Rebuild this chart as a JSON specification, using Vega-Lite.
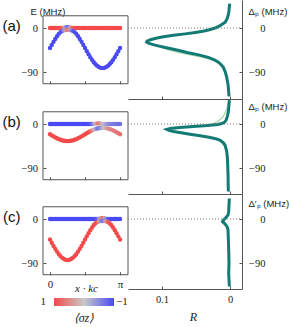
{
"$schema": "https://vega.github.io/schema/vega-lite/v6.json",
"padding": {"top": -3, "left": 0, "right": 0, "bottom": 0},
"background": "white",
"spacing": 0,
"bounds": "flush",
"resolve": {"scale": {"color": "independent"}},
"config": {
  "view": {"stroke": null},
  "axis": {"grid": false, "domainColor": "#555", "tickColor": "#555", "labelColor": "#222", "titleColor": "#222", "labelFont": "Liberation Serif", "labelFontSize": 10.5, "titleFontWeight": "normal", "domainWidth": 1, "tickWidth": 1}
},
"datasets": {
"bands": [
{"p":"a","b":"u","x":0,"E":0,"s":1},{"p":"a","b":"u","x":0.0785,"E":0,"s":1},{"p":"a","b":"u","x":0.1571,"E":0,"s":1},{"p":"a","b":"u","x":0.2356,"E":0,"s":1},{"p":"a","b":"u","x":0.3142,"E":0,"s":1},{"p":"a","b":"u","x":0.3927,"E":0,"s":1},{"p":"a","b":"u","x":0.4712,"E":0,"s":0.95},{"p":"a","b":"u","x":0.5498,"E":0.3,"s":0.85},{"p":"a","b":"u","x":0.6283,"E":0.8,"s":0.4},{"p":"a","b":"u","x":0.7069,"E":1.5,"s":-0.4},{"p":"a","b":"u","x":0.7854,"E":2,"s":-0.7},{"p":"a","b":"u","x":0.8639,"E":1.5,"s":-0.4},{"p":"a","b":"u","x":0.9425,"E":0.8,"s":0.4},{"p":"a","b":"u","x":1.021,"E":0.3,"s":0.85},{"p":"a","b":"u","x":1.0996,"E":0,"s":0.95},{"p":"a","b":"u","x":1.1781,"E":0,"s":1},{"p":"a","b":"u","x":1.2566,"E":0,"s":1},{"p":"a","b":"u","x":1.3352,"E":0,"s":1},{"p":"a","b":"u","x":1.4137,"E":0,"s":1},{"p":"a","b":"u","x":1.4923,"E":0,"s":1},{"p":"a","b":"u","x":1.5708,"E":0,"s":1},{"p":"a","b":"u","x":1.6493,"E":0,"s":1},{"p":"a","b":"u","x":1.7279,"E":0,"s":1},{"p":"a","b":"u","x":1.8064,"E":0,"s":1},{"p":"a","b":"u","x":1.885,"E":0,"s":1},{"p":"a","b":"u","x":1.9635,"E":0,"s":1},{"p":"a","b":"u","x":2.042,"E":0,"s":1},{"p":"a","b":"u","x":2.1206,"E":0,"s":1},{"p":"a","b":"u","x":2.1991,"E":0,"s":1},{"p":"a","b":"u","x":2.2777,"E":0,"s":1},{"p":"a","b":"u","x":2.3562,"E":0,"s":1},{"p":"a","b":"u","x":2.4347,"E":0,"s":1},{"p":"a","b":"u","x":2.5133,"E":0,"s":1},{"p":"a","b":"u","x":2.5918,"E":0,"s":1},{"p":"a","b":"u","x":2.6704,"E":0,"s":1},{"p":"a","b":"u","x":2.7489,"E":0,"s":1},{"p":"a","b":"u","x":2.8274,"E":0,"s":1},{"p":"a","b":"u","x":2.906,"E":0,"s":1},{"p":"a","b":"u","x":2.9845,"E":0,"s":1},{"p":"a","b":"u","x":3.0631,"E":0,"s":1},{"p":"a","b":"u","x":3.1416,"E":0,"s":1},
{"p":"a","b":"l","x":0,"E":-41,"s":-1},{"p":"a","b":"l","x":0.0785,"E":-34.6,"s":-1},{"p":"a","b":"l","x":0.1571,"E":-28.3,"s":-1},{"p":"a","b":"l","x":0.2356,"E":-22.4,"s":-1},{"p":"a","b":"l","x":0.3142,"E":-16.9,"s":-1},{"p":"a","b":"l","x":0.3927,"E":-12,"s":-1},{"p":"a","b":"l","x":0.4712,"E":-8.3,"s":-0.95},{"p":"a","b":"l","x":0.5498,"E":-5.8,"s":-0.85},{"p":"a","b":"l","x":0.6283,"E":-4.8,"s":-0.4},{"p":"a","b":"l","x":0.7069,"E":-4.2,"s":0.4},{"p":"a","b":"l","x":0.7854,"E":-4,"s":0.7},{"p":"a","b":"l","x":0.8639,"E":-4.2,"s":0.4},{"p":"a","b":"l","x":0.9425,"E":-4.8,"s":-0.4},{"p":"a","b":"l","x":1.021,"E":-5.8,"s":-0.85},{"p":"a","b":"l","x":1.0996,"E":-8.3,"s":-0.95},{"p":"a","b":"l","x":1.1781,"E":-12,"s":-1},{"p":"a","b":"l","x":1.2566,"E":-16.9,"s":-1},{"p":"a","b":"l","x":1.3352,"E":-22.4,"s":-1},{"p":"a","b":"l","x":1.4137,"E":-28.3,"s":-1},{"p":"a","b":"l","x":1.4923,"E":-34.6,"s":-1},{"p":"a","b":"l","x":1.5708,"E":-41,"s":-1},{"p":"a","b":"l","x":1.6493,"E":-47.4,"s":-1},{"p":"a","b":"l","x":1.7279,"E":-53.7,"s":-1},{"p":"a","b":"l","x":1.8064,"E":-59.6,"s":-1},{"p":"a","b":"l","x":1.885,"E":-65.1,"s":-1},{"p":"a","b":"l","x":1.9635,"E":-70,"s":-1},{"p":"a","b":"l","x":2.042,"E":-74.2,"s":-1},{"p":"a","b":"l","x":2.1206,"E":-77.5,"s":-1},{"p":"a","b":"l","x":2.1991,"E":-80,"s":-1},{"p":"a","b":"l","x":2.2777,"E":-81.5,"s":-1},{"p":"a","b":"l","x":2.3562,"E":-82,"s":-1},{"p":"a","b":"l","x":2.4347,"E":-81.5,"s":-1},{"p":"a","b":"l","x":2.5133,"E":-80,"s":-1},{"p":"a","b":"l","x":2.5918,"E":-77.5,"s":-1},{"p":"a","b":"l","x":2.6704,"E":-74.2,"s":-1},{"p":"a","b":"l","x":2.7489,"E":-70,"s":-1},{"p":"a","b":"l","x":2.8274,"E":-65.1,"s":-1},{"p":"a","b":"l","x":2.906,"E":-59.6,"s":-1},{"p":"a","b":"l","x":2.9845,"E":-53.7,"s":-1},{"p":"a","b":"l","x":3.0631,"E":-47.4,"s":-1},{"p":"a","b":"l","x":3.1416,"E":-41,"s":-1},
{"p":"b","b":"u","x":0,"E":0,"s":-1},{"p":"b","b":"u","x":0.0785,"E":0,"s":-1},{"p":"b","b":"u","x":0.1571,"E":0,"s":-1},{"p":"b","b":"u","x":0.2356,"E":0,"s":-1},{"p":"b","b":"u","x":0.3142,"E":0,"s":-1},{"p":"b","b":"u","x":0.3927,"E":0,"s":-1},{"p":"b","b":"u","x":0.4712,"E":0,"s":-1},{"p":"b","b":"u","x":0.5498,"E":0,"s":-1},{"p":"b","b":"u","x":0.6283,"E":0,"s":-1},{"p":"b","b":"u","x":0.7069,"E":0,"s":-1},{"p":"b","b":"u","x":0.7854,"E":0,"s":-1},{"p":"b","b":"u","x":0.8639,"E":0,"s":-1},{"p":"b","b":"u","x":0.9425,"E":0,"s":-1},{"p":"b","b":"u","x":1.021,"E":0,"s":-1},{"p":"b","b":"u","x":1.0996,"E":0,"s":-1},{"p":"b","b":"u","x":1.1781,"E":0,"s":-1},{"p":"b","b":"u","x":1.2566,"E":0,"s":-1},{"p":"b","b":"u","x":1.3352,"E":0,"s":-1},{"p":"b","b":"u","x":1.4137,"E":0,"s":-1},{"p":"b","b":"u","x":1.4923,"E":0,"s":-1},{"p":"b","b":"u","x":1.5708,"E":0,"s":-1},{"p":"b","b":"u","x":1.6493,"E":0,"s":-1},{"p":"b","b":"u","x":1.7279,"E":0,"s":-1},{"p":"b","b":"u","x":1.8064,"E":0,"s":-0.9},{"p":"b","b":"u","x":1.885,"E":0,"s":-0.75},{"p":"b","b":"u","x":1.9635,"E":0.3,"s":-0.4},{"p":"b","b":"u","x":2.042,"E":0.8,"s":0.1},{"p":"b","b":"u","x":2.1206,"E":1.2,"s":0.55},{"p":"b","b":"u","x":2.1991,"E":1.2,"s":0.6},{"p":"b","b":"u","x":2.2777,"E":0.8,"s":0.4},{"p":"b","b":"u","x":2.3562,"E":0.4,"s":0.1},{"p":"b","b":"u","x":2.4347,"E":0,"s":-0.15},{"p":"b","b":"u","x":2.5133,"E":0,"s":-0.3},{"p":"b","b":"u","x":2.5918,"E":0,"s":-0.4},{"p":"b","b":"u","x":2.6704,"E":0,"s":-0.5},{"p":"b","b":"u","x":2.7489,"E":0,"s":-0.55},{"p":"b","b":"u","x":2.8274,"E":0,"s":-0.6},{"p":"b","b":"u","x":2.906,"E":0,"s":-0.62},{"p":"b","b":"u","x":2.9845,"E":0,"s":-0.65},{"p":"b","b":"u","x":3.0631,"E":0,"s":-0.67},{"p":"b","b":"u","x":3.1416,"E":0,"s":-0.7},
{"p":"b","b":"l","x":0,"E":-21,"s":1},{"p":"b","b":"l","x":0.0785,"E":-23.2,"s":1},{"p":"b","b":"l","x":0.1571,"E":-25.3,"s":1},{"p":"b","b":"l","x":0.2356,"E":-27.4,"s":1},{"p":"b","b":"l","x":0.3142,"E":-29.2,"s":1},{"p":"b","b":"l","x":0.3927,"E":-30.9,"s":1},{"p":"b","b":"l","x":0.4712,"E":-32.3,"s":1},{"p":"b","b":"l","x":0.5498,"E":-33.5,"s":1},{"p":"b","b":"l","x":0.6283,"E":-34.3,"s":1},{"p":"b","b":"l","x":0.7069,"E":-34.8,"s":1},{"p":"b","b":"l","x":0.7854,"E":-35,"s":1},{"p":"b","b":"l","x":0.8639,"E":-34.8,"s":1},{"p":"b","b":"l","x":0.9425,"E":-34.3,"s":1},{"p":"b","b":"l","x":1.021,"E":-33.5,"s":1},{"p":"b","b":"l","x":1.0996,"E":-32.3,"s":1},{"p":"b","b":"l","x":1.1781,"E":-30.9,"s":1},{"p":"b","b":"l","x":1.2566,"E":-29.2,"s":1},{"p":"b","b":"l","x":1.3352,"E":-27.4,"s":1},{"p":"b","b":"l","x":1.4137,"E":-25.3,"s":1},{"p":"b","b":"l","x":1.4923,"E":-23.2,"s":1},{"p":"b","b":"l","x":1.5708,"E":-21,"s":1},{"p":"b","b":"l","x":1.6493,"E":-18.8,"s":1},{"p":"b","b":"l","x":1.7279,"E":-16.7,"s":1},{"p":"b","b":"l","x":1.8064,"E":-14.6,"s":0.85},{"p":"b","b":"l","x":1.885,"E":-12.9,"s":0.6},{"p":"b","b":"l","x":1.9635,"E":-11.4,"s":0.2},{"p":"b","b":"l","x":2.042,"E":-10.2,"s":-0.3},{"p":"b","b":"l","x":2.1206,"E":-9.2,"s":-0.6},{"p":"b","b":"l","x":2.1991,"E":-8.5,"s":-0.6},{"p":"b","b":"l","x":2.2777,"E":-8.1,"s":-0.45},{"p":"b","b":"l","x":2.3562,"E":-8,"s":-0.2},{"p":"b","b":"l","x":2.4347,"E":-8.1,"s":0.05},{"p":"b","b":"l","x":2.5133,"E":-8.5,"s":0.25},{"p":"b","b":"l","x":2.5918,"E":-9.2,"s":0.4},{"p":"b","b":"l","x":2.6704,"E":-10.2,"s":0.5},{"p":"b","b":"l","x":2.7489,"E":-11.4,"s":0.55},{"p":"b","b":"l","x":2.8274,"E":-12.9,"s":0.6},{"p":"b","b":"l","x":2.906,"E":-14.6,"s":0.62},{"p":"b","b":"l","x":2.9845,"E":-16.7,"s":0.65},{"p":"b","b":"l","x":3.0631,"E":-18.8,"s":0.67},{"p":"b","b":"l","x":3.1416,"E":-21,"s":0.7},
{"p":"c","b":"u","x":0,"E":0,"s":-1},{"p":"c","b":"u","x":0.0785,"E":0,"s":-1},{"p":"c","b":"u","x":0.1571,"E":0,"s":-1},{"p":"c","b":"u","x":0.2356,"E":0,"s":-1},{"p":"c","b":"u","x":0.3142,"E":0,"s":-1},{"p":"c","b":"u","x":0.3927,"E":0,"s":-1},{"p":"c","b":"u","x":0.4712,"E":0,"s":-1},{"p":"c","b":"u","x":0.5498,"E":0,"s":-1},{"p":"c","b":"u","x":0.6283,"E":0,"s":-1},{"p":"c","b":"u","x":0.7069,"E":0,"s":-1},{"p":"c","b":"u","x":0.7854,"E":0,"s":-1},{"p":"c","b":"u","x":0.8639,"E":0,"s":-1},{"p":"c","b":"u","x":0.9425,"E":0,"s":-1},{"p":"c","b":"u","x":1.021,"E":0,"s":-1},{"p":"c","b":"u","x":1.0996,"E":0,"s":-1},{"p":"c","b":"u","x":1.1781,"E":0,"s":-1},{"p":"c","b":"u","x":1.2566,"E":0,"s":-1},{"p":"c","b":"u","x":1.3352,"E":0,"s":-1},{"p":"c","b":"u","x":1.4137,"E":0,"s":-1},{"p":"c","b":"u","x":1.4923,"E":0,"s":-1},{"p":"c","b":"u","x":1.5708,"E":0,"s":-1},{"p":"c","b":"u","x":1.6493,"E":0,"s":-1},{"p":"c","b":"u","x":1.7279,"E":0,"s":-1},{"p":"c","b":"u","x":1.8064,"E":0,"s":-1},{"p":"c","b":"u","x":1.885,"E":0,"s":-1},{"p":"c","b":"u","x":1.9635,"E":0,"s":-1},{"p":"c","b":"u","x":2.042,"E":0,"s":-0.95},{"p":"c","b":"u","x":2.1206,"E":0.3,"s":-0.85},{"p":"c","b":"u","x":2.1991,"E":0.8,"s":-0.4},{"p":"c","b":"u","x":2.2777,"E":1.5,"s":0.4},{"p":"c","b":"u","x":2.3562,"E":2,"s":0.7},{"p":"c","b":"u","x":2.4347,"E":1.5,"s":0.4},{"p":"c","b":"u","x":2.5133,"E":0.8,"s":-0.4},{"p":"c","b":"u","x":2.5918,"E":0.3,"s":-0.85},{"p":"c","b":"u","x":2.6704,"E":0,"s":-0.95},{"p":"c","b":"u","x":2.7489,"E":0,"s":-1},{"p":"c","b":"u","x":2.8274,"E":0,"s":-1},{"p":"c","b":"u","x":2.906,"E":0,"s":-1},{"p":"c","b":"u","x":2.9845,"E":0,"s":-1},{"p":"c","b":"u","x":3.0631,"E":0,"s":-1},{"p":"c","b":"u","x":3.1416,"E":0,"s":-1},
{"p":"c","b":"l","x":0,"E":-42,"s":1},{"p":"c","b":"l","x":0.0785,"E":-48.6,"s":1},{"p":"c","b":"l","x":0.1571,"E":-55,"s":1},{"p":"c","b":"l","x":0.2356,"E":-61.1,"s":1},{"p":"c","b":"l","x":0.3142,"E":-66.7,"s":1},{"p":"c","b":"l","x":0.3927,"E":-71.7,"s":1},{"p":"c","b":"l","x":0.4712,"E":-76,"s":1},{"p":"c","b":"l","x":0.5498,"E":-79.4,"s":1},{"p":"c","b":"l","x":0.6283,"E":-81.9,"s":1},{"p":"c","b":"l","x":0.7069,"E":-83.5,"s":1},{"p":"c","b":"l","x":0.7854,"E":-84,"s":1},{"p":"c","b":"l","x":0.8639,"E":-83.5,"s":1},{"p":"c","b":"l","x":0.9425,"E":-81.9,"s":1},{"p":"c","b":"l","x":1.021,"E":-79.4,"s":1},{"p":"c","b":"l","x":1.0996,"E":-76,"s":1},{"p":"c","b":"l","x":1.1781,"E":-71.7,"s":1},{"p":"c","b":"l","x":1.2566,"E":-66.7,"s":1},{"p":"c","b":"l","x":1.3352,"E":-61.1,"s":1},{"p":"c","b":"l","x":1.4137,"E":-55,"s":1},{"p":"c","b":"l","x":1.4923,"E":-48.6,"s":1},{"p":"c","b":"l","x":1.5708,"E":-42,"s":1},{"p":"c","b":"l","x":1.6493,"E":-35.4,"s":1},{"p":"c","b":"l","x":1.7279,"E":-29,"s":1},{"p":"c","b":"l","x":1.8064,"E":-22.9,"s":1},{"p":"c","b":"l","x":1.885,"E":-17.3,"s":1},{"p":"c","b":"l","x":1.9635,"E":-12.3,"s":1},{"p":"c","b":"l","x":2.042,"E":-8.6,"s":0.95},{"p":"c","b":"l","x":2.1206,"E":-5.9,"s":0.85},{"p":"c","b":"l","x":2.1991,"E":-4.9,"s":0.4},{"p":"c","b":"l","x":2.2777,"E":-4.3,"s":-0.4},{"p":"c","b":"l","x":2.3562,"E":-4,"s":-0.7},{"p":"c","b":"l","x":2.4347,"E":-4.3,"s":-0.4},{"p":"c","b":"l","x":2.5133,"E":-4.9,"s":0.4},{"p":"c","b":"l","x":2.5918,"E":-5.9,"s":0.85},{"p":"c","b":"l","x":2.6704,"E":-8.6,"s":0.95},{"p":"c","b":"l","x":2.7489,"E":-12.3,"s":1},{"p":"c","b":"l","x":2.8274,"E":-17.3,"s":1},{"p":"c","b":"l","x":2.906,"E":-22.9,"s":1},{"p":"c","b":"l","x":2.9845,"E":-29,"s":1},{"p":"c","b":"l","x":3.0631,"E":-35.4,"s":1},{"p":"c","b":"l","x":3.1416,"E":-42,"s":1}
],
"refl": [
{"p":"a","t":"calc","d":50,"R":0.0005},{"p":"a","t":"calc","d":40,"R":0.0012},{"p":"a","t":"calc","d":30,"R":0.002},{"p":"a","t":"calc","d":20,"R":0.004},{"p":"a","t":"calc","d":12,"R":0.007},{"p":"a","t":"calc","d":8,"R":0.011},{"p":"a","t":"calc","d":4,"R":0.016},{"p":"a","t":"calc","d":0,"R":0.022},{"p":"a","t":"calc","d":-3,"R":0.029},{"p":"a","t":"calc","d":-6,"R":0.038},{"p":"a","t":"calc","d":-9,"R":0.051},{"p":"a","t":"calc","d":-12,"R":0.066},{"p":"a","t":"calc","d":-15,"R":0.083},{"p":"a","t":"calc","d":-18,"R":0.098},{"p":"a","t":"calc","d":-21,"R":0.109},{"p":"a","t":"calc","d":-24,"R":0.117},{"p":"a","t":"calc","d":-27,"R":0.122},{"p":"a","t":"calc","d":-29,"R":0.1225},{"p":"a","t":"calc","d":-31,"R":0.12},{"p":"a","t":"calc","d":-34,"R":0.113},{"p":"a","t":"calc","d":-37,"R":0.104},{"p":"a","t":"calc","d":-40,"R":0.095},{"p":"a","t":"calc","d":-43,"R":0.085},{"p":"a","t":"calc","d":-46,"R":0.075},{"p":"a","t":"calc","d":-50,"R":0.063},{"p":"a","t":"calc","d":-55,"R":0.046},{"p":"a","t":"calc","d":-60,"R":0.032},{"p":"a","t":"calc","d":-65,"R":0.023},{"p":"a","t":"calc","d":-70,"R":0.017},{"p":"a","t":"calc","d":-75,"R":0.013},{"p":"a","t":"calc","d":-80,"R":0.01},{"p":"a","t":"calc","d":-90,"R":0.007},{"p":"a","t":"calc","d":-100,"R":0.005},{"p":"a","t":"calc","d":-115,"R":0.003},{"p":"a","t":"calc","d":-130,"R":0.002},{"p":"a","t":"calc","d":-140,"R":0.0015},
{"p":"a","t":"meas","d":45,"R":0.0008},{"p":"a","t":"meas","d":30,"R":0.002},{"p":"a","t":"meas","d":15,"R":0.005},{"p":"a","t":"meas","d":5,"R":0.013},{"p":"a","t":"meas","d":0,"R":0.019},{"p":"a","t":"meas","d":-5,"R":0.032},{"p":"a","t":"meas","d":-10,"R":0.055},{"p":"a","t":"meas","d":-15,"R":0.085},{"p":"a","t":"meas","d":-20,"R":0.106},{"p":"a","t":"meas","d":-25,"R":0.118},{"p":"a","t":"meas","d":-28,"R":0.121},{"p":"a","t":"meas","d":-31,"R":0.118},{"p":"a","t":"meas","d":-35,"R":0.11},{"p":"a","t":"meas","d":-40,"R":0.1},{"p":"a","t":"meas","d":-45,"R":0.09},{"p":"a","t":"meas","d":-50,"R":0.076},{"p":"a","t":"meas","d":-55,"R":0.058},{"p":"a","t":"meas","d":-60,"R":0.04},{"p":"a","t":"meas","d":-65,"R":0.027},{"p":"a","t":"meas","d":-70,"R":0.019},{"p":"a","t":"meas","d":-80,"R":0.011},{"p":"a","t":"meas","d":-90,"R":0.007},{"p":"a","t":"meas","d":-110,"R":0.004},{"p":"a","t":"meas","d":-140,"R":0.002},
{"p":"b","t":"calc","d":49,"R":0.001},{"p":"b","t":"calc","d":35,"R":0.0018},{"p":"b","t":"calc","d":25,"R":0.0025},{"p":"b","t":"calc","d":15,"R":0.004},{"p":"b","t":"calc","d":8,"R":0.0058},{"p":"b","t":"calc","d":4,"R":0.0078},{"p":"b","t":"calc","d":1,"R":0.012},{"p":"b","t":"calc","d":-1,"R":0.018},{"p":"b","t":"calc","d":-3,"R":0.033},{"p":"b","t":"calc","d":-5,"R":0.054},{"p":"b","t":"calc","d":-7,"R":0.074},{"p":"b","t":"calc","d":-9,"R":0.088},{"p":"b","t":"calc","d":-11,"R":0.093},{"p":"b","t":"calc","d":-13,"R":0.09},{"p":"b","t":"calc","d":-15.5,"R":0.083},{"p":"b","t":"calc","d":-18,"R":0.072},{"p":"b","t":"calc","d":-21,"R":0.059},{"p":"b","t":"calc","d":-24,"R":0.044},{"p":"b","t":"calc","d":-27,"R":0.031},{"p":"b","t":"calc","d":-30,"R":0.021},{"p":"b","t":"calc","d":-33,"R":0.015},{"p":"b","t":"calc","d":-38,"R":0.01},{"p":"b","t":"calc","d":-43,"R":0.0074},{"p":"b","t":"calc","d":-55,"R":0.005},{"p":"b","t":"calc","d":-70,"R":0.0038},{"p":"b","t":"calc","d":-100,"R":0.003},{"p":"b","t":"calc","d":-138,"R":0.0025},
{"p":"b","t":"meas","d":45,"R":0.002},{"p":"b","t":"meas","d":30,"R":0.005},{"p":"b","t":"meas","d":15,"R":0.01},{"p":"b","t":"meas","d":5,"R":0.018},{"p":"b","t":"meas","d":0,"R":0.026},{"p":"b","t":"meas","d":-3,"R":0.04},{"p":"b","t":"meas","d":-6,"R":0.065},{"p":"b","t":"meas","d":-9,"R":0.085},{"p":"b","t":"meas","d":-11,"R":0.09},{"p":"b","t":"meas","d":-14,"R":0.086},{"p":"b","t":"meas","d":-18,"R":0.072},{"p":"b","t":"meas","d":-22,"R":0.055},{"p":"b","t":"meas","d":-26,"R":0.038},{"p":"b","t":"meas","d":-30,"R":0.024},{"p":"b","t":"meas","d":-35,"R":0.015},{"p":"b","t":"meas","d":-45,"R":0.008},{"p":"b","t":"meas","d":-60,"R":0.005},{"p":"b","t":"meas","d":-90,"R":0.003},{"p":"b","t":"meas","d":-138,"R":0.002},
{"p":"c","t":"calc","d":42,"R":0.001},{"p":"c","t":"calc","d":30,"R":0.0015},{"p":"c","t":"calc","d":15,"R":0.002},{"p":"c","t":"calc","d":8,"R":0.003},{"p":"c","t":"calc","d":3,"R":0.006},{"p":"c","t":"calc","d":0,"R":0.008},{"p":"c","t":"calc","d":-3,"R":0.01},{"p":"c","t":"calc","d":-5.5,"R":0.011},{"p":"c","t":"calc","d":-8,"R":0.009},{"p":"c","t":"calc","d":-12,"R":0.006},{"p":"c","t":"calc","d":-17,"R":0.004},{"p":"c","t":"calc","d":-22,"R":0.003},{"p":"c","t":"calc","d":-40,"R":0.0025},{"p":"c","t":"calc","d":-60,"R":0.002},{"p":"c","t":"calc","d":-90,"R":0.0015},{"p":"c","t":"calc","d":-110,"R":0.002},{"p":"c","t":"calc","d":-138,"R":0.001},
{"p":"c","t":"meas","d":42,"R":0.0015},{"p":"c","t":"meas","d":10,"R":0.003},{"p":"c","t":"meas","d":3,"R":0.007},{"p":"c","t":"meas","d":-5,"R":0.01},{"p":"c","t":"meas","d":-12,"R":0.006},{"p":"c","t":"meas","d":-25,"R":0.003},{"p":"c","t":"meas","d":-60,"R":0.0025},{"p":"c","t":"meas","d":-138,"R":0.0015}
]
},
"vconcat": [
{
 "width": 242, "height": 99,
 "layer": [
  {"layer": [
    {"data": {"name": "bands"}, "transform": [{"filter": "datum.p === 'a'"}],
     "mark": {"type": "circle", "size": 19, "opacity": 1},
     "encoding": {
      "x": {"field": "x", "type": "quantitative", "scale": {"domain": [-0.3142, 3.4975], "range": [43, 128], "nice": false, "zero": false},
            "axis": {"orient": "bottom", "offset": -15.27, "domain": false, "tickSize": -3, "values": [0, 1.5708, 3.1416], "labels": false, "title": null}},
      "y": {"field": "E", "type": "quantitative", "scale": {"domain": [-145.2, 57.27], "nice": false, "zero": false},
            "axis": {"orient": "left", "offset": -43, "domain": false, "tickSize": -3, "values": [0, -90], "labelPadding": 8.5, "title": "E (MHz)", "titleAngle": 0, "titleX": -13, "titleY": 14, "titleAlign": "left", "titleBaseline": "alphabetic", "titleFont": "Liberation Sans", "titleFontSize": 9.5}},
      "color": {"field": "s", "type": "quantitative", "scale": {"domain": [1, 0, -1], "range": ["#f24a4a", "#c9c9c9", "#4a4af2"], "interpolate": "rgb"}, "legend": null}
     }},
    {"data": {"values": [{}]}, "mark": {"type": "rect", "fill": null, "stroke": "#555", "strokeWidth": 1},
     "encoding": {"x": {"datum": -0.3142, "type": "quantitative"}, "x2": {"datum": 3.4975}, "y": {"datum": 25, "type": "quantitative"}, "y2": {"datum": -114}}},
    {"data": {"values": [{}]}, "mark": {"type": "text", "font": "Liberation Sans", "fontSize": 15, "align": "center", "baseline": "middle", "color": "#111"},
     "encoding": {"x": {"datum": -1.718, "type": "quantitative"}, "y": {"datum": 5, "type": "quantitative"}, "text": {"value": "(a)"}}}
  ]},
  {"layer": [
    {"data": {"name": "refl"}, "transform": [{"filter": "datum.p === 'a' && datum.t === 'meas'"}],
     "mark": {"type": "line", "color": "#a3d5a8", "strokeWidth": 1.2},
     "encoding": {
      "x": {"field": "R", "type": "quantitative", "scale": {"domain": [-0.0176, 0.15], "reverse": true, "range": [128, 242], "nice": false, "zero": false},
            "axis": {"orient": "bottom", "tickSize": -3, "values": [0.1, 0], "labels": false, "title": null}},
      "y": {"field": "d", "type": "quantitative", "scale": {"domain": [-145.2, 57.27], "nice": false, "zero": false},
            "axis": {"orient": "right", "tickSize": -3, "values": [0, -90], "labelAlign": "right", "labelPadding": 26, "title": "Δₚ (MHz)", "titleAngle": 0, "titleX": 6, "titleY": 14, "titleAlign": "left", "titleBaseline": "alphabetic", "titleFont": "Liberation Sans", "titleFontSize": 9.5}},
      "order": {"field": "d", "type": "quantitative"}
     }},
    {"data": {"name": "refl"}, "transform": [{"filter": "datum.p === 'a' && datum.t === 'calc'"}],
     "mark": {"type": "line", "color": "#137b74", "strokeWidth": 3},
     "encoding": {"x": {"field": "R", "type": "quantitative"}, "y": {"field": "d", "type": "quantitative"}, "order": {"field": "d", "type": "quantitative"}}},
    {"data": {"values": [{}]}, "mark": {"type": "rule", "color": "#777", "strokeDash": [1, 2], "strokeWidth": 1},
     "encoding": {"x": {"datum": 0.15, "type": "quantitative"}, "x2": {"datum": -0.0176}, "y": {"datum": 0, "type": "quantitative"}}}
  ]}
 ],
 "resolve": {"scale": {"x": "independent", "y": "independent"}}
},
{
 "width": 242, "height": 95,
 "layer": [
  {"layer": [
    {"data": {"name": "bands"}, "transform": [{"filter": "datum.p === 'b'"}],
     "mark": {"type": "circle", "size": 19, "opacity": 1},
     "encoding": {
      "x": {"field": "x", "type": "quantitative", "scale": {"domain": [-0.3142, 3.4975], "range": [43, 128], "nice": false, "zero": false},
            "axis": {"orient": "bottom", "offset": -14.27, "domain": false, "tickSize": -3, "values": [0, 1.5708, 3.1416], "labels": false, "title": null}},
      "y": {"field": "E", "type": "quantitative", "scale": {"domain": [-143.18, 51.14], "nice": false, "zero": false},
            "axis": {"orient": "left", "offset": -43, "domain": false, "tickSize": -3, "values": [0, -90], "labelPadding": 8.5, "title": null}},
      "color": {"field": "s", "type": "quantitative", "scale": {"domain": [1, 0, -1], "range": ["#f24a4a", "#c9c9c9", "#4a4af2"], "interpolate": "rgb"}, "legend": null}
     }},
    {"data": {"values": [{}]}, "mark": {"type": "rect", "fill": null, "stroke": "#555", "strokeWidth": 1},
     "encoding": {"x": {"datum": -0.3142, "type": "quantitative"}, "x2": {"datum": 3.4975}, "y": {"datum": 25, "type": "quantitative"}, "y2": {"datum": -114}}},
    {"data": {"values": [{}]}, "mark": {"type": "text", "font": "Liberation Sans", "fontSize": 15, "align": "center", "baseline": "middle", "color": "#111"},
     "encoding": {"x": {"datum": -1.718, "type": "quantitative"}, "y": {"datum": 5, "type": "quantitative"}, "text": {"value": "(b)"}}}
  ]},
  {"layer": [
    {"data": {"name": "refl"}, "transform": [{"filter": "datum.p === 'b' && datum.t === 'meas'"}],
     "mark": {"type": "line", "color": "#a3d5a8", "strokeWidth": 1.2},
     "encoding": {
      "x": {"field": "R", "type": "quantitative", "scale": {"domain": [-0.0176, 0.15], "reverse": true, "range": [128, 242], "nice": false, "zero": false},
            "axis": {"orient": "bottom", "tickSize": -3, "values": [0.1, 0], "labels": false, "title": null}},
      "y": {"field": "d", "type": "quantitative", "scale": {"domain": [-143.18, 51.14], "nice": false, "zero": false},
            "axis": {"orient": "right", "tickSize": -3, "values": [0, -90], "labelAlign": "right", "labelPadding": 26, "title": "Δₚ (MHz)", "titleAngle": 0, "titleX": 6, "titleY": 10, "titleAlign": "left", "titleBaseline": "alphabetic", "titleFont": "Liberation Sans", "titleFontSize": 9.5}},
      "order": {"field": "d", "type": "quantitative"}
     }},
    {"data": {"name": "refl"}, "transform": [{"filter": "datum.p === 'b' && datum.t === 'calc'"}],
     "mark": {"type": "line", "color": "#137b74", "strokeWidth": 3},
     "encoding": {"x": {"field": "R", "type": "quantitative"}, "y": {"field": "d", "type": "quantitative"}, "order": {"field": "d", "type": "quantitative"}}},
    {"data": {"values": [{}]}, "mark": {"type": "rule", "color": "#777", "strokeDash": [1, 2], "strokeWidth": 1},
     "encoding": {"x": {"datum": 0.15, "type": "quantitative"}, "x2": {"datum": -0.0176}, "y": {"datum": 0, "type": "quantitative"}}}
  ]}
 ],
 "resolve": {"scale": {"x": "independent", "y": "independent"}}
},
{
 "width": 242, "height": 95,
 "layer": [
  {"layer": [
    {"data": {"name": "bands"}, "transform": [{"filter": "datum.p === 'c'"}],
     "mark": {"type": "circle", "size": 19, "opacity": 1},
     "encoding": {
      "x": {"field": "x", "type": "quantitative", "scale": {"domain": [-0.3142, 3.4975], "range": [43, 128], "nice": false, "zero": false},
            "axis": {"orient": "bottom", "offset": -14.27, "domain": false, "tickSize": -3, "values": [0, 1.5708, 3.1416], "labelExpr": "datum.value < 1 ? '0' : datum.value > 3 ? 'π' : ''", "labelPadding": 6.3, "labelFontSize": 11, "title": "x · kc", "titleX": 86, "titleY": 17, "titleAlign": "center", "titleBaseline": "alphabetic", "titleFont": "Liberation Serif", "titleFontStyle": "italic", "titleFontSize": 11}},
      "y": {"field": "E", "type": "quantitative", "scale": {"domain": [-143.18, 51.14], "nice": false, "zero": false},
            "axis": {"orient": "left", "offset": -43, "domain": false, "tickSize": -3, "values": [0, -90], "labelPadding": 8.5, "title": null}},
      "color": {"field": "s", "type": "quantitative", "scale": {"domain": [1, 0, -1], "range": ["#f24a4a", "#c9c9c9", "#4a4af2"], "interpolate": "rgb"},
            "legend": {"orient": "none", "legendX": 54, "legendY": 104, "direction": "horizontal", "gradientLength": 60, "gradientThickness": 8, "gradientStrokeWidth": 0, "values": [1, -1], "padding": 0,
                       "labelFont": "Liberation Serif", "labelFontSize": 11, "labelColor": "#222",
                       "title": "⟨σz⟩", "titleOrient": "bottom", "titleAnchor": "middle", "titleFont": "Liberation Serif", "titleFontStyle": "italic", "titleFontSize": 12, "titleFontWeight": "normal", "titlePadding": 6, "titleColor": "#222",
                       "encoding": {"labels": {"align": {"value": {"expr": "datum.value > 0 ? 'right' : 'left'"}}, "dx": {"value": {"expr": "datum.value > 0 ? -8 : 2"}}, "y": {"value": 4}, "baseline": {"value": "middle"}}}}}
     }},
    {"data": {"values": [{}]}, "mark": {"type": "rect", "fill": null, "stroke": "#555", "strokeWidth": 1},
     "encoding": {"x": {"datum": -0.3142, "type": "quantitative"}, "x2": {"datum": 3.4975}, "y": {"datum": 25, "type": "quantitative"}, "y2": {"datum": -114}}},
    {"data": {"values": [{}]}, "mark": {"type": "text", "font": "Liberation Sans", "fontSize": 15, "align": "center", "baseline": "middle", "color": "#111"},
     "encoding": {"x": {"datum": -1.718, "type": "quantitative"}, "y": {"datum": 4, "type": "quantitative"}, "text": {"value": "(c)"}}}
  ]},
  {"layer": [
    {"data": {"name": "refl"}, "transform": [{"filter": "datum.p === 'c' && datum.t === 'meas'"}],
     "mark": {"type": "line", "color": "#a3d5a8", "strokeWidth": 1.2},
     "encoding": {
      "x": {"field": "R", "type": "quantitative", "scale": {"domain": [-0.0176, 0.15], "reverse": true, "range": [128, 242], "nice": false, "zero": false},
            "axis": {"orient": "bottom", "tickSize": -3, "values": [0.1, 0], "format": ".1~f", "labelPadding": 8, "title": "R", "titleX": 193, "titlePadding": 7, "titleFont": "Liberation Serif", "titleFontStyle": "italic", "titleFontSize": 12}},
      "y": {"field": "d", "type": "quantitative", "scale": {"domain": [-143.18, 51.14], "nice": false, "zero": false},
            "axis": {"orient": "right", "tickSize": -3, "values": [0, -90], "labelAlign": "right", "labelPadding": 26, "title": "Δ′ₚ (MHz)", "titleAngle": 0, "titleX": 6, "titleY": 12, "titleAlign": "left", "titleBaseline": "alphabetic", "titleFont": "Liberation Sans", "titleFontSize": 9.5}},
      "order": {"field": "d", "type": "quantitative"}
     }},
    {"data": {"name": "refl"}, "transform": [{"filter": "datum.p === 'c' && datum.t === 'calc'"}],
     "mark": {"type": "line", "color": "#137b74", "strokeWidth": 3},
     "encoding": {"x": {"field": "R", "type": "quantitative"}, "y": {"field": "d", "type": "quantitative"}, "order": {"field": "d", "type": "quantitative"}}},
    {"data": {"values": [{}]}, "mark": {"type": "rule", "color": "#777", "strokeDash": [1, 2], "strokeWidth": 1},
     "encoding": {"x": {"datum": 0.15, "type": "quantitative"}, "x2": {"datum": -0.0176}, "y": {"datum": 0, "type": "quantitative"}}}
  ]}
 ],
 "resolve": {"scale": {"x": "independent", "y": "independent"}}
}
]
}
